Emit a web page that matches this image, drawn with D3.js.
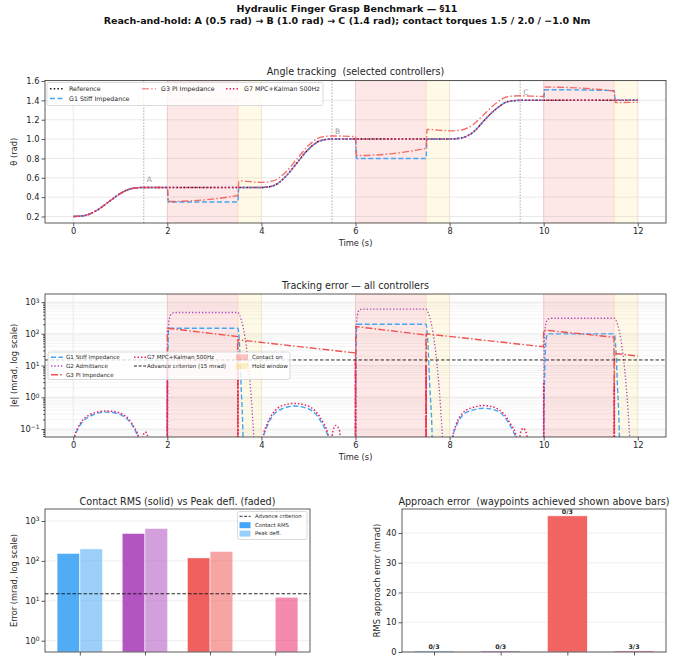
<!DOCTYPE html>
<html>
<head>
<meta charset="UTF-8">
<title>Hydraulic Finger Grasp Benchmark</title>
<script src="https://cdnjs.cloudflare.com/ajax/libs/d3/7.8.5/d3.min.js"></script>
<style>
  body { margin: 0; background: #fff; }
  svg { font-family: "DejaVu Sans", sans-serif; }
  text { white-space: pre; }
</style>
</head>
<body>
<svg id="chart" width="694" height="658"></svg>
<script>
// ---------------- data ----------------
const contactOn = [[2, 3.5], [6, 7.5], [10, 11.5]];
const holdWindow = [[3.5, 4], [7.5, 8], [11.5, 12]];
const wpName = ['A', 'B', 'C'];
const wpTime = [1.5, 5.5, 9.5];
const wpAngle = [0.5, 1.0, 1.4];
const advanceCrit = 15; // mrad

// angle tracking, [t (s), theta (rad)]
const refAngle = [[0,0.2],[0.25,0.211],[0.5,0.263],[0.75,0.35],[1.0,0.437],[1.25,0.489],[1.5,0.5],
  [4.0,0.5],[4.25,0.518],[4.5,0.605],[4.75,0.75],[5.0,0.895],[5.25,0.982],[5.5,1.0],
  [8.0,1.0],[8.25,1.012],[8.5,1.07],[8.75,1.2],[9.0,1.316],[9.25,1.388],[9.5,1.4],[12.0,1.4]];
const g1Angle = [[0,0.2],[0.25,0.211],[0.5,0.263],[0.75,0.35],[1.0,0.437],[1.25,0.489],[1.5,0.5],
  [2.0,0.5],[2.02,0.35],[3.5,0.35],[3.52,0.5],[4.0,0.5],[4.25,0.518],[4.5,0.605],[4.75,0.75],
  [5.0,0.895],[5.25,0.982],[5.5,1.0],[6.0,1.0],[6.02,0.8],[7.5,0.8],[7.52,1.0],[8.0,1.0],
  [8.25,1.012],[8.5,1.07],[8.75,1.2],[9.0,1.316],[9.25,1.388],[9.5,1.4],[10.0,1.4],
  [10.02,1.51],[11.5,1.5],[11.52,1.4],[12.0,1.4]];
const g3Angle = [[0,0.2],[0.25,0.211],[0.5,0.263],[0.75,0.35],[1.0,0.437],[1.25,0.489],[1.5,0.5],
  [2.0,0.5],[2.02,0.355],[3.5,0.417],[3.52,0.568],[4.0,0.553],[4.25,0.568],[4.5,0.65],[4.75,0.792],
  [5.0,0.933],[5.25,1.018],[5.5,1.032],[6.0,1.025],[6.02,0.83],[7.5,0.905],[7.52,1.1],[8.0,1.085],
  [8.25,1.094],[8.5,1.15],[8.75,1.265],[9.0,1.375],[9.25,1.44],[9.5,1.447],[10.0,1.44],
  [10.02,1.537],[11.5,1.497],[11.52,1.377],[12.0,1.38]];
const g7Angle = refAngle; // sits on the reference

// tracking error, [t (s), |e| (mrad)]; 0.001 = below the axis
const g1Err = [[0,0.001],[0.02,0.05],[0.1,0.1],[0.2,0.17],[0.35,0.25],[0.5,0.31],[0.7,0.34],[0.9,0.32],
  [1.05,0.26],[1.2,0.17],[1.3,0.1],[1.38,0.05],[1.42,0.001],[1.99,0.001],[2.0,0.05],[2.01,20],[2.03,150],
  [3.5,150],[3.53,60],[3.57,2],[3.61,0.05],[3.63,0.001],[4.0,0.001],[4.04,0.05],[4.12,0.12],[4.25,0.27],
  [4.45,0.44],[4.7,0.53],[4.95,0.46],[5.15,0.3],[5.3,0.14],[5.4,0.07],[5.44,0.05],[5.46,0.001],
  [5.99,0.001],[6.0,0.05],[6.01,20],[6.03,200],[7.5,200],[7.53,80],[7.58,2],[7.63,0.05],[7.65,0.001],
  [8.03,0.001],[8.06,0.05],[8.14,0.12],[8.28,0.27],[8.5,0.4],[8.72,0.45],[8.95,0.4],[9.15,0.26],
  [9.3,0.12],[9.4,0.06],[9.43,0.05],[9.45,0.001],[9.99,0.001],[10.0,0.05],[10.02,5],[10.05,60],
  [10.08,100],[11.5,100],[11.53,40],[11.57,2],[11.61,0.05],[11.63,0.001],[12.0,0.001]];
const g2Err = [[0,0.001],[1.99,0.001],[2.0,0.05],[2.01,60],[2.04,280],[2.09,430],[2.15,470],
  [3.5,470],[3.54,380],[3.84,0.05],[3.86,0.001],[5.99,0.001],[6.0,0.05],[6.01,90],[6.04,380],
  [6.08,560],[6.14,600],[7.5,600],[7.54,480],[7.85,0.05],[7.87,0.001],[9.99,0.001],[10.0,0.05],
  [10.01,40],[10.04,190],[10.09,290],[10.15,310],[11.5,310],[11.54,260],[11.83,0.05],[11.85,0.001],
  [12.0,0.001]];
const g3Err = [[0,0.001],[1.995,0.001],[2.0,150],[3.495,82],[3.5,0.001],[3.505,65],[5.995,25],
  [6.0,0.001],[6.005,170],[7.495,92],[7.5,0.001],[7.505,100],[9.995,39],[10.0,132],[11.495,78],
  [11.5,0.001],[11.505,24],[12.0,20]];
const g7Err = [[0,0.001],[0.02,0.05],[0.1,0.11],[0.2,0.19],[0.35,0.28],[0.5,0.34],[0.7,0.37],[0.9,0.35],
  [1.05,0.29],[1.2,0.19],[1.3,0.11],[1.38,0.06],[1.42,0.03],[1.45,0.001],[1.47,0.05],[1.53,0.08],
  [1.58,0.06],[1.62,0.001],[1.995,0.001],[2.0,12],[2.01,0.001],[3.495,0.001],[3.5,9],[3.51,0.001],
  [4.0,0.001],[4.03,0.05],[4.12,0.14],[4.25,0.32],[4.45,0.55],[4.7,0.64],[4.95,0.56],[5.15,0.36],
  [5.3,0.17],[5.4,0.08],[5.45,0.03],[5.48,0.001],[5.5,0.06],[5.58,0.13],[5.66,0.09],[5.72,0.001],
  [5.995,0.001],[6.0,12.3],[6.01,0.001],[7.495,0.001],[7.5,10],[7.51,0.001],[8.04,0.001],[8.06,0.05],
  [8.14,0.14],[8.28,0.32],[8.5,0.48],[8.72,0.55],[8.95,0.48],[9.15,0.3],[9.3,0.14],[9.4,0.07],
  [9.44,0.03],[9.47,0.001],[9.5,0.07],[9.56,0.105],[9.64,0.07],[9.7,0.001],[9.995,0.001],[10.0,3],
  [10.01,0.001],[11.495,0.001],[11.5,3],[11.51,0.001],[12.0,0.001]];

// per-controller summary
const ctrlNames = ['G1 Stiff Impedance', 'G2 Admittance', 'G3 PI Impedance', 'G7 MPC+Kalman 500Hz'];
const ctrlColors = ['#42A5F5', '#AB47BC', '#EF5350', '#E91E63'];
const contactRms = [155, 490, 119, null];
const peakDefl = [200, 655, 174, 12.3];
const approachErr = [0.35, 0.35, 45.8, 0.35];
const waypointsHit = ['0/3', '0/3', '0/3', '3/3'];

const timeTicks = [0, 2, 4, 6, 8, 10, 12];
const angleTicks = [0.2, 0.4, 0.6, 0.8, 1.0, 1.2, 1.4, 1.6];
const logTicksErr = [0.1, 1, 10, 100, 1000];
const logTicksBar = [1, 10, 100, 1000];
const approachTicks = [0, 10, 20, 30, 40];

// ---------------- helpers ----------------
const svg = d3.select('#chart');
const INK = '#262626';
const FS_TICK = 8.3;
const FS_LABEL = 8.3;
const FS_TITLE = 9.6;

function styleAxis(sel) {
  sel.select('.domain').remove();
  sel.selectAll('line').attr('stroke', '#333').attr('stroke-width', 0.8);
  sel.selectAll('text').attr('fill', INK).attr('font-size', FS_TICK)
    .attr('font-family', '"DejaVu Sans", sans-serif');
}
function supLabels(sel) {
  sel.selectAll('.tick text').each(function (d) {
    var e = Math.round(Math.log10(d));
    var t = d3.select(this).text('10');
    t.append('tspan').attr('dy', '-0.45em').attr('font-size', '0.72em')
      .text(e < 0 ? '\u2212' + (-e) : e);
  });
}
function frame(ax) {
  svg.append('rect').attr('x', ax.l).attr('y', ax.t)
    .attr('width', ax.r - ax.l).attr('height', ax.b - ax.t)
    .attr('fill', 'none').attr('stroke', '#333').attr('stroke-width', 0.8);
}
function clip(id, ax) {
  svg.append('clipPath').attr('id', id).append('rect')
    .attr('x', ax.l).attr('y', ax.t).attr('width', ax.r - ax.l).attr('height', ax.b - ax.t);
}
function title(txt, x, y) {
  svg.append('text').attr('x', x).attr('y', y).attr('text-anchor', 'middle')
    .attr('font-size', FS_TITLE).attr('fill', INK).text(txt);
}
function ylabel(txt, x, y) {
  svg.append('text').attr('transform', `translate(${x},${y}) rotate(-90)`)
    .attr('text-anchor', 'middle').attr('font-size', FS_LABEL).attr('fill', INK).text(txt);
}
function xlabel(txt, x, y) {
  svg.append('text').attr('x', x).attr('y', y).attr('text-anchor', 'middle')
    .attr('font-size', FS_LABEL).attr('fill', INK).text(txt);
}
function spans(g, x, ax) {
  g.selectAll('rect.contact').data(contactOn).enter().append('rect').attr('class', 'contact')
    .attr('x', d => x(d[0])).attr('width', d => x(d[1]) - x(d[0]))
    .attr('y', ax.t).attr('height', ax.b - ax.t)
    .attr('fill', '#F44336').attr('fill-opacity', 0.12)
    .attr('stroke', '#F44336').attr('stroke-opacity', 0.12).attr('stroke-width', 1);
  g.selectAll('rect.hold').data(holdWindow).enter().append('rect').attr('class', 'hold')
    .attr('x', d => x(d[0])).attr('width', d => x(d[1]) - x(d[0]))
    .attr('y', ax.t).attr('height', ax.b - ax.t)
    .attr('fill', '#FFD54F').attr('fill-opacity', 0.13)
    .attr('stroke', '#FFD54F').attr('stroke-opacity', 0.13).attr('stroke-width', 1);
}
function legendBox(x, y, w, h) {
  svg.append('rect').attr('x', x).attr('y', y).attr('width', w).attr('height', h)
    .attr('rx', 2).attr('fill', '#fff').attr('fill-opacity', 0.8)
    .attr('stroke', '#d0d0d0').attr('stroke-width', 0.8);
}
function legendLine(x, y, len, style, txt, tx, fs) {
  svg.append('line').attr('x1', x).attr('x2', x + len).attr('y1', y).attr('y2', y)
    .attr('stroke', style.color).attr('stroke-width', style.width)
    .attr('stroke-dasharray', style.dash).attr('stroke-opacity', style.opacity || 1);
  svg.append('text').attr('x', tx).attr('y', y + fs * 0.35).attr('font-size', fs)
    .attr('fill', INK).text(txt);
}
function legendPatch(x, y, w, color, op, txt, tx, fs) {
  svg.append('rect').attr('x', x).attr('y', y - 3).attr('width', w).attr('height', 6)
    .attr('fill', color).attr('fill-opacity', op);
  svg.append('text').attr('x', tx).attr('y', y + fs * 0.35).attr('font-size', fs)
    .attr('fill', INK).text(txt);
}

// line styles
const sRef = { color: '#111', width: 1.5, dash: '1.5,2.2' };
const sG1 = { color: ctrlColors[0], width: 1.4, dash: '5,2.5' };
const sG2 = { color: ctrlColors[1], width: 1.3, dash: '1.3,2' };
const sG3 = { color: ctrlColors[2], width: 1.4, dash: '7,2.2,1.5,2.2' };
const sG7 = { color: ctrlColors[3], width: 1.5, dash: '1.5,2' };

// ---------------- suptitle ----------------
svg.append('text').attr('x', 347).attr('y', 12).attr('text-anchor', 'middle')
  .attr('font-size', 9.5).attr('font-weight', 'bold').attr('fill', '#111')
  .text('Hydraulic Finger Grasp Benchmark \u2014 \u00a711');
svg.append('text').attr('x', 347).attr('y', 24).attr('text-anchor', 'middle')
  .attr('font-size', 9.5).attr('font-weight', 'bold').attr('fill', '#111')
  .text('Reach-and-hold: A (0.5 rad) \u2192 B (1.0 rad) \u2192 C (1.4 rad); contact torques 1.5 / 2.0 / \u22121.0 Nm');

// ---------------- panel 1: angle tracking ----------------
const ax1 = { l: 45, r: 666, t: 80.5, b: 223 };
const x1 = d3.scaleLinear().domain([-0.6, 12.6]).range([ax1.l, ax1.r]);
const y1 = d3.scaleLinear().domain([0.133, 1.605]).range([ax1.b, ax1.t]);
clip('clip1', ax1);

const grid1 = svg.append('g');
grid1.selectAll('line.gx').data(timeTicks).enter().append('line')
  .attr('x1', d => x1(d)).attr('x2', d => x1(d)).attr('y1', ax1.t).attr('y2', ax1.b)
  .attr('stroke', '#e4e4e4').attr('stroke-width', 0.8);
grid1.selectAll('line.gy').data(angleTicks).enter().append('line')
  .attr('y1', d => y1(d)).attr('y2', d => y1(d)).attr('x1', ax1.l).attr('x2', ax1.r)
  .attr('stroke', '#e4e4e4').attr('stroke-width', 0.8);

const p1 = svg.append('g').attr('clip-path', 'url(#clip1)');
spans(p1, x1, ax1);

// waypoint markers
p1.selectAll('line.wp').data(wpTime).enter().append('line')
  .attr('x1', d => x1(d)).attr('x2', d => x1(d)).attr('y1', ax1.t).attr('y2', ax1.b)
  .attr('stroke', '#999').attr('stroke-width', 0.8).attr('stroke-dasharray', '1.5,1.5');
p1.selectAll('text.wp').data(wpName).enter().append('text')
  .attr('x', (d, i) => x1(wpTime[i]) + 3).attr('y', (d, i) => y1(wpAngle[i]) - 5)
  .attr('font-size', 7.5).attr('fill', '#999').text(d => d);

const line1 = d3.line().x(d => x1(d[0])).y(d => y1(d[1])).curve(d3.curveMonotoneX);
[[refAngle, sRef], [g1Angle, sG1], [g3Angle, Object.assign({}, sG3, { opacity: 0.85 })],
 [g7Angle, Object.assign({}, sG7, { offset: 1.8 })]].forEach(function (s) {
  p1.append('path').datum(s[0]).attr('d', line1).attr('fill', 'none')
    .attr('stroke', s[1].color).attr('stroke-width', s[1].width)
    .attr('stroke-dasharray', s[1].dash).attr('stroke-dashoffset', s[1].offset || 0)
    .attr('stroke-opacity', s[1].opacity || 1);
});

svg.append('g').attr('transform', `translate(0,${ax1.b})`)
  .call(d3.axisBottom(x1).tickValues(timeTicks).tickSize(3.5).tickPadding(2).tickFormat(d3.format('d')))
  .call(styleAxis);
svg.append('g').attr('transform', `translate(${ax1.l},0)`)
  .call(d3.axisLeft(y1).tickValues(angleTicks).tickSize(3.5).tickPadding(2).tickFormat(d3.format('.1f')))
  .call(styleAxis);
frame(ax1);
title('Angle tracking  (selected controllers)', (ax1.l + ax1.r) / 2, 75);
xlabel('Time (s)', (ax1.l + ax1.r) / 2, 246);
ylabel('\u03b8 (rad)', 17, (ax1.t + ax1.b) / 2);

legendBox(47, 82.5, 276, 23);
const fsL1 = 6.3;
legendLine(50, 88.7, 14, sRef, 'Reference', 69, fsL1);
legendLine(50, 98.5, 14, sG1, ctrlNames[0], 69, fsL1);
legendLine(142, 88.7, 14, Object.assign({}, sG3, { opacity: 0.6 }), ctrlNames[2], 161, fsL1);
legendLine(226, 88.7, 14, sG7, ctrlNames[3], 244, fsL1);

// ---------------- panel 2: tracking error ----------------
const ax2 = { l: 45, r: 666, t: 294, b: 437 };
const x2 = d3.scaleLinear().domain([-0.6, 12.6]).range([ax2.l, ax2.r]);
const y2 = d3.scaleLog().domain([0.056, 1800]).range([ax2.b, ax2.t]);
clip('clip2', ax2);

const minor2 = [];
[-2, -1, 0, 1, 2, 3].forEach(function (k) {
  for (var m = 2; m <= 9; m++) {
    var v = m * Math.pow(10, k);
    if (v > 0.056 && v < 1800) minor2.push(v);
  }
});
const grid2 = svg.append('g');
grid2.selectAll('line.gm').data(minor2).enter().append('line')
  .attr('y1', d => y2(d)).attr('y2', d => y2(d)).attr('x1', ax2.l).attr('x2', ax2.r)
  .attr('stroke', '#efefef').attr('stroke-width', 0.7);
grid2.selectAll('line.gy').data(logTicksErr).enter().append('line')
  .attr('y1', d => y2(d)).attr('y2', d => y2(d)).attr('x1', ax2.l).attr('x2', ax2.r)
  .attr('stroke', '#e2e2e2').attr('stroke-width', 0.8);
grid2.selectAll('line.gx').data(timeTicks).enter().append('line')
  .attr('x1', d => x2(d)).attr('x2', d => x2(d)).attr('y1', ax2.t).attr('y2', ax2.b)
  .attr('stroke', '#e4e4e4').attr('stroke-width', 0.8);

const p2 = svg.append('g').attr('clip-path', 'url(#clip2)');
spans(p2, x2, ax2);

const line2 = d3.line().x(d => x2(d[0])).y(d => y2(d[1])).curve(d3.curveMonotoneX);
const line2lin = d3.line().x(d => x2(d[0])).y(d => y2(d[1]));
[[g1Err, sG1, line2], [g2Err, sG2, line2], [g3Err, sG3, line2lin], [g7Err, sG7, line2]].forEach(function (s) {
  p2.append('path').datum(s[0]).attr('d', s[2]).attr('fill', 'none')
    .attr('stroke', s[1].color).attr('stroke-width', s[1].width).attr('stroke-dasharray', s[1].dash);
});
p2.append('line').attr('x1', ax2.l).attr('x2', ax2.r).attr('y1', y2(advanceCrit)).attr('y2', y2(advanceCrit))
  .attr('stroke', '#111').attr('stroke-width', 0.9).attr('stroke-dasharray', '3.5,2');

svg.append('g').attr('transform', `translate(0,${ax2.b})`)
  .call(d3.axisBottom(x2).tickValues(timeTicks).tickSize(3.5).tickPadding(2).tickFormat(d3.format('d')))
  .call(styleAxis);
svg.append('g').attr('transform', `translate(${ax2.l},0)`)
  .call(d3.axisLeft(y2).tickValues(minor2).tickSize(2).tickFormat(''))
  .call(styleAxis);
svg.append('g').attr('transform', `translate(${ax2.l},0)`)
  .call(d3.axisLeft(y2).tickValues(logTicksErr).tickSize(3.5).tickPadding(2))
  .call(styleAxis).call(supLabels);
frame(ax2);
title('Tracking error \u2014 all controllers', (ax2.l + ax2.r) / 2, 289);
xlabel('Time (s)', (ax2.l + ax2.r) / 2, 460);
ylabel('|e| (mrad, log scale)', 17, (ax2.t + ax2.b) / 2);

legendBox(48, 352, 242, 27.5);
const fsL2 = 5.6;
legendLine(51, 357.3, 12, sG1, ctrlNames[0], 66, fsL2);
legendLine(51, 366, 12, sG2, ctrlNames[1], 66, fsL2);
legendLine(51, 374.7, 12, sG3, ctrlNames[2], 66, fsL2);
legendLine(134, 357.3, 12, sG7, ctrlNames[3], 147, fsL2);
legendLine(134, 366, 12, { color: '#111', width: 0.9, dash: '3,1.6' }, 'Advance criterion (15 mrad)', 147, fsL2);
legendPatch(236, 357.3, 12, '#F44336', 0.3, 'Contact on', 252, fsL2);
legendPatch(236, 366, 12, '#FFD54F', 0.35, 'Hold window', 252, fsL2);

// ---------------- panel 3: contact RMS vs peak deflection ----------------
const ax3 = { l: 45, r: 310, t: 509, b: 652 };
const x3 = d3.scaleLinear().domain([-0.535, 3.535]).range([ax3.l, ax3.r]);
const y3 = d3.scaleLog().domain([0.52, 2000]).range([ax3.b, ax3.t]);
clip('clip3', ax3);
const barW3 = 0.35;

svg.append('g').selectAll('line').data(logTicksBar).enter().append('line')
  .attr('y1', d => y3(d)).attr('y2', d => y3(d)).attr('x1', ax3.l).attr('x2', ax3.r)
  .attr('stroke', '#ebebeb').attr('stroke-width', 0.8);
const p3 = svg.append('g').attr('clip-path', 'url(#clip3)');
p3.selectAll('rect.rms').data(contactRms.map((v, i) => [i, v]).filter(d => d[1] !== null))
  .enter().append('rect')
  .attr('x', d => x3(d[0] - barW3)).attr('width', x3(barW3) - x3(0))
  .attr('y', d => y3(d[1])).attr('height', d => ax3.b - y3(d[1]))
  .attr('fill', d => ctrlColors[d[0]]).attr('fill-opacity', 0.92)
  .attr('stroke', '#fff').attr('stroke-width', 0.6);
p3.selectAll('rect.peak').data(peakDefl).enter().append('rect')
  .attr('x', (d, i) => x3(i)).attr('width', x3(barW3) - x3(0))
  .attr('y', d => y3(d)).attr('height', d => ax3.b - y3(d))
  .attr('fill', (d, i) => ctrlColors[i]).attr('fill-opacity', 0.52)
  .attr('stroke', '#fff').attr('stroke-width', 0.6);
p3.append('line').attr('x1', ax3.l).attr('x2', ax3.r).attr('y1', y3(advanceCrit)).attr('y2', y3(advanceCrit))
  .attr('stroke', '#111').attr('stroke-width', 0.9).attr('stroke-dasharray', '3.5,2');

svg.append('g').attr('transform', `translate(0,${ax3.b})`)
  .call(d3.axisBottom(x3).tickValues([0, 1, 2, 3]).tickSize(3.5).tickFormat(''))
  .call(styleAxis);
svg.append('g').attr('transform', `translate(${ax3.l},0)`)
  .call(d3.axisLeft(y3).tickValues(logTicksBar).tickSize(3.5).tickPadding(2))
  .call(styleAxis).call(supLabels);
frame(ax3);
title('Contact RMS (solid) vs Peak defl. (faded)', (ax3.l + ax3.r) / 2, 505);
ylabel('Error (mrad, log scale)', 17, (ax3.t + ax3.b) / 2);

legendBox(237.5, 511.5, 69.5, 28);
const fsL3 = 5.3;
legendLine(239.5, 516.3, 11, { color: '#111', width: 0.9, dash: '3,1.6' }, 'Advance criterion', 255, fsL3);
legendPatch(239.5, 525.2, 11, ctrlColors[0], 1, 'Contact RMS', 255, fsL3);
legendPatch(239.5, 533.6, 11, ctrlColors[0], 0.55, 'Peak defl.', 255, fsL3);

// ---------------- panel 4: approach error ----------------
const ax4 = { l: 402, r: 666, t: 509, b: 652 };
const x4 = d3.scaleLinear().domain([-0.48, 3.48]).range([ax4.l, ax4.r]);
const y4 = d3.scaleLinear().domain([0, 48.1]).range([ax4.b, ax4.t]);
const barW4 = 0.6;

svg.append('g').selectAll('line').data(approachTicks).enter().append('line')
  .attr('y1', d => y4(d)).attr('y2', d => y4(d)).attr('x1', ax4.l).attr('x2', ax4.r)
  .attr('stroke', '#ebebeb').attr('stroke-width', 0.8);
svg.append('g').selectAll('rect').data(approachErr).enter().append('rect')
  .attr('x', (d, i) => x4(i - barW4 / 2)).attr('width', x4(barW4) - x4(0))
  .attr('y', d => y4(d)).attr('height', d => ax4.b - y4(d))
  .attr('fill', (d, i) => ctrlColors[i]).attr('fill-opacity', 0.9)
  .attr('stroke', '#fff').attr('stroke-width', 0.6);
svg.append('g').selectAll('text').data(waypointsHit).enter().append('text')
  .attr('x', (d, i) => x4(i)).attr('y', (d, i) => y4(approachErr[i]) - 2)
  .attr('text-anchor', 'middle').attr('font-size', 6.3).attr('font-weight', 'bold')
  .attr('fill', INK).text(d => d);

svg.append('g').attr('transform', `translate(0,${ax4.b})`)
  .call(d3.axisBottom(x4).tickValues([0, 1, 2, 3]).tickSize(3.5).tickFormat(''))
  .call(styleAxis);
svg.append('g').attr('transform', `translate(${ax4.l},0)`)
  .call(d3.axisLeft(y4).tickValues(approachTicks).tickSize(3.5).tickPadding(2).tickFormat(d3.format('d')))
  .call(styleAxis);
frame(ax4);
title('Approach error  (waypoints achieved shown above bars)', (ax4.l + ax4.r) / 2, 505);
ylabel('RMS approach error (mrad)', 380, (ax4.t + ax4.b) / 2);
</script>
</body>
</html>
